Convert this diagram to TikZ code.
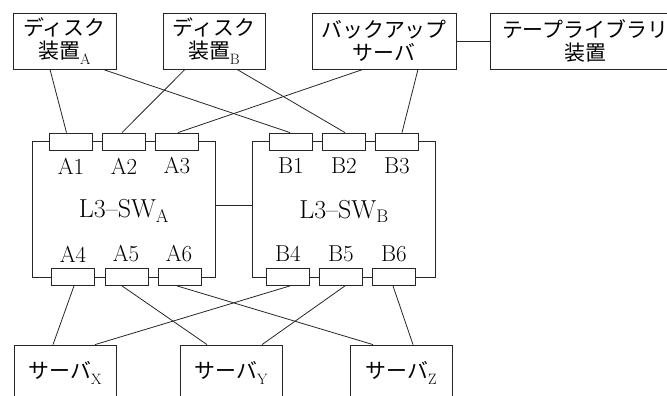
\documentclass[tikz,border=0pt]{standalone}
\usepackage{fontspec}
\newfontfamily\jp{Noto Sans CJK JP}[Scale=0.95]
\newcommand{\lowsub}[1]{\raisebox{-6pt}{\fontsize{15}{15}\selectfont #1}}
\begin{document}
\begin{tikzpicture}[x=1pt,y=-1pt,
  every node/.style={font=\fontsize{22}{23}\selectfont},
  box/.style={draw=black!85, line width=0.8pt, fill=white, minimum height=56pt, inner sep=0pt, align=center},
  sw/.style={draw=black!85, line width=0.8pt, minimum width=183pt, minimum height=136pt, inner sep=0pt},
  port/.style={draw=black!85, line width=0.8pt, fill=white, minimum width=43pt, minimum height=17pt, inner sep=0pt},
  lbl/.style={inner sep=0pt, font=\fontsize{23}{24}\selectfont},
  swlbl/.style={inner sep=0pt, font=\fontsize{26}{27}\selectfont},
  conn/.style={draw=black!85, line width=0.8pt}]
\useasboundingbox (0,0) rectangle (667,396);
\clip (0,0) rectangle (667,396);
% top devices
\node[box, minimum width=103pt] (diskA) at (64.5,41) {{\jp ディスク}\\{\jp 装置}\lowsub{A}};
\node[box, minimum width=102pt] (diskB) at (214,41) {{\jp ディスク}\\{\jp 装置}\lowsub{B}};
\node[box, minimum width=144pt] (backup) at (384,41) {{\jp バックアップ}\\{\jp サーバ}};
\node[box, minimum width=190pt] (tape) at (585,41) {{\jp テープライブラリ}\\{\jp 装置}};
% switches
\node[sw] (swA) at (123.5,209) {};
\node[sw] (swB) at (343.5,209) {};
\node[swlbl] (swAl) at (124,211) {L3--SW$_\mathrm{A}$};
\node[swlbl] (swBl) at (344,211) {L3--SW$_\mathrm{B}$};
% ports
\node[port] (A1) at (70.5,141.5) {};
\node[port] (A2) at (123.5,141.5) {};
\node[port] (A3) at (176.5,141.5) {};
\node[port] (B1) at (290.5,141.5) {};
\node[port] (B2) at (343.5,141.5) {};
\node[port] (B3) at (396.5,141.5) {};
\node[port] (A4) at (73,277) {};
\node[port] (A5) at (126.5,277) {};
\node[port] (A6) at (179.5,277) {};
\node[port] (B4) at (288,277) {};
\node[port] (B5) at (340.5,277) {};
\node[port] (B6) at (394,277) {};
% port labels
\node[lbl] (lA1) at (71,166) {A1};
\node[lbl] (lA2) at (124,166) {A2};
\node[lbl] (lA3) at (177,166) {A3};
\node[lbl] (lB1) at (291,166) {B1};
\node[lbl] (lB2) at (344,166) {B2};
\node[lbl] (lB3) at (397,166) {B3};
\node[lbl] (lA4) at (73,254) {A4};
\node[lbl] (lA5) at (126,254) {A5};
\node[lbl] (lA6) at (179,254) {A6};
\node[lbl] (lB4) at (288,254) {B4};
\node[lbl] (lB5) at (341,254) {B5};
\node[lbl] (lB6) at (394,254) {B6};
% servers
\node[box, minimum width=102pt] (srvX) at (65,373) {{\jp サーバ}\lowsub{X}};
\node[box, minimum width=102pt] (srvY) at (231,373) {{\jp サーバ}\lowsub{Y}};
\node[box, minimum width=102pt] (srvZ) at (401,373) {{\jp サーバ}\lowsub{Z}};
% connectors
\draw[conn] (backup.east) -- (tape.west);
\draw[conn] ([yshift=4pt]swA.east) -- ([yshift=4pt]swB.west);
\draw[conn] ([xshift=-14.5pt]diskA.south) -- ([xshift=-4pt]A1.north);
\draw[conn] ([xshift=38.5pt]diskA.south) -- ([xshift=-0.5pt]B1.north);
\draw[conn] ([xshift=-29pt]diskB.south) -- ([xshift=-1.5pt]A2.north);
\draw[conn] ([xshift=23pt]diskB.south) -- ([xshift=1.5pt]B2.north);
\draw[conn] ([xshift=-21pt]backup.south) -- ([xshift=1.5pt]A3.north);
\draw[conn] ([xshift=34pt]backup.south) -- ([xshift=5.5pt]B3.north);
\draw[conn] ([xshift=1pt]A4.south) -- ([xshift=-12pt]srvX.north);
\draw[conn] ([xshift=-4.5pt]A5.south) -- ([xshift=-24pt]srvY.north);
\draw[conn] ([xshift=-2.5pt]A6.south) -- ([xshift=-28pt]srvZ.north);
\draw[conn] ([xshift=2pt]B4.south) -- ([xshift=30pt]srvX.north);
\draw[conn] ([xshift=4.5pt]B5.south) -- ([xshift=31pt]srvY.north);
\draw[conn] ([xshift=-1pt]B6.south) -- ([xshift=12pt]srvZ.north);
\end{tikzpicture}
\end{document}
